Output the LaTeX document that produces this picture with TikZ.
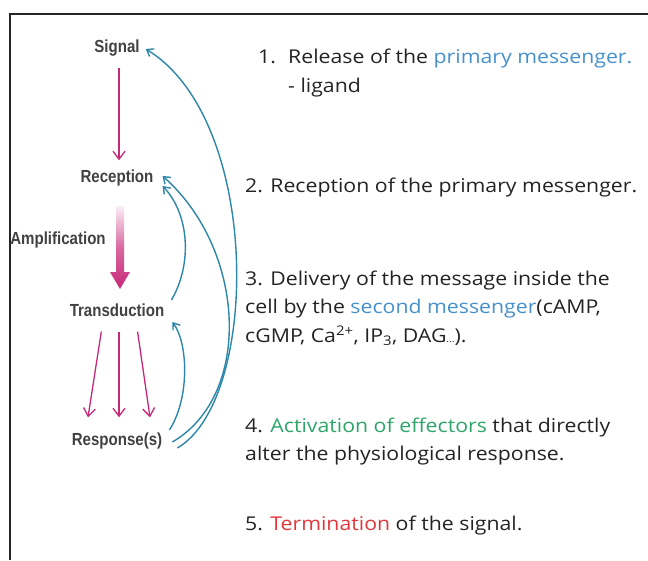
\documentclass[tikz,border=0pt]{standalone}
\usepackage{fontspec}
\setmainfont[FakeStretch=1.12]{Open Sans}
\newfontfamily\lblfont[FakeStretch=0.86]{Liberation Sans Bold}
\usetikzlibrary{arrows.meta}
\definecolor{txt}{RGB}{35,35,35}
\definecolor{lbl}{RGB}{65,65,65}
\definecolor{tblue}{RGB}{70,145,205}
\definecolor{tgreen}{RGB}{45,165,105}
\definecolor{tred}{RGB}{225,55,60}
\definecolor{arrblue}{RGB}{45,135,170}
\definecolor{pink}{RGB}{200,40,120}
\tikzset{
  lbl/.style={font=\lblfont\fontsize{17.5}{18}\selectfont, text=lbl, inner sep=1pt, text height=12pt, text depth=3pt, anchor=center},
  item/.style={font=\fontsize{19}{21}\selectfont, text=txt, inner sep=0pt, anchor=base west},
  pinkarr/.style={draw=pink, line width=1.3pt, -{Straight Barb[length=8pt,width=12pt]}},
  bluearr/.style={draw=arrblue, line width=1.4pt, -{Straight Barb[length=6pt,width=9pt]}}
}
\begin{document}
\begin{tikzpicture}[x=1pt,y=-1pt]
\useasboundingbox (0,0) rectangle (648,560);
% frame
\draw[line width=2pt, draw=black!85] (648,14) -- (10,14) -- (10,560);

% left labels
\node[lbl] (sig) at (117,48) {Signal};
\node[lbl] (rec) at (117,178) {Reception};
\node[lbl] (trans) at (117,312) {Transduction};
\node[lbl] (resp) at (117,441) {Response(s)};
\node[lbl] (amp) at (58,240) {Amplification};

% pink arrows
\draw[pinkarr, shorten <=11pt, shorten >=9pt] ([xshift=2pt]sig.south) -- ([xshift=2pt]rec.north);
\shade[top color=pink!8, bottom color=pink, middle color=pink!70]
  (116,206) -- (124,206) -- (124,272) -- (130,272) -- (120,289) -- (110,272) -- (116,272) -- cycle;
\draw[pinkarr, shorten <=11pt] ([xshift=-14pt]trans.south) -- ([xshift=-29pt,yshift=15pt]resp.north);
\draw[pinkarr, shorten <=11pt] ([xshift=2pt]trans.south) -- ([xshift=2pt,yshift=15pt]resp.north);
\draw[pinkarr, shorten <=11pt] ([xshift=19pt]trans.south) -- ([xshift=33pt,yshift=15pt]resp.north);

% blue feedback arcs
\draw[bluearr] ([xshift=6pt,yshift=11pt]resp.east) .. controls (189,400) and (189,345) .. ([xshift=7pt,yshift=-10pt]trans.east);
\draw[bluearr] ([xshift=6pt,yshift=12pt]trans.east) .. controls (192,265) and (190,215) .. ([xshift=8pt,yshift=-8pt]rec.east);
\draw[bluearr] ([xshift=9pt,yshift=-1pt]resp.east) .. controls (253,395) and (246,250) .. ([xshift=8pt,yshift=2pt]rec.east);
\draw[bluearr] ([xshift=14pt,yshift=-7pt]resp.east) .. controls (260,400) and (262,120) .. ([xshift=5pt,yshift=-1pt]sig.east);

% right texts
\node[item] (t1a) at (258,63) {1.};
\node[item] (t1b) at (288,63) {Release of the \textcolor{tblue}{primary messenger.}};
\node[item] (t1c) at (288,92) {- ligand};
\node[item] (t2) at (245,192) {2. Reception of the primary messenger.};
\node[item] (t3a) at (245,285) {3. Delivery of the message inside the};
\node[item] (t3b) at (245,313) {cell by the \textcolor{tblue}{second messenger}(cAMP,};
\node[item] (t3c) at (245,342) {cGMP, Ca\textsuperscript{2+}, IP\textsubscript{3}, DAG{\fontsize{9}{9}\selectfont...}).};
\node[item] (t4a) at (245,432) {4. \textcolor{tgreen}{Activation of effectors} that directly};
\node[item] (t4b) at (245,460) {alter the physiological response.};
\node[item] (t5) at (245,530) {5. \textcolor{tred}{Termination} of the signal.};
\end{tikzpicture}
\end{document}
